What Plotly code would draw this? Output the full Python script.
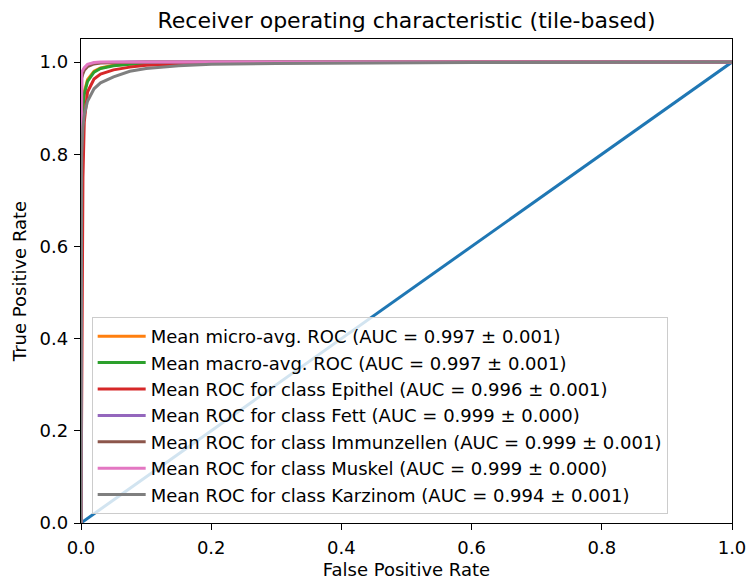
import plotly.graph_objects as go

# Shared false-positive-rate grid for the averaged ROC curves
fpr = [0, 0.001, 0.003, 0.005, 0.01, 0.02, 0.03, 0.05, 0.075, 0.1,
       0.15, 0.2, 0.3, 0.4, 0.6, 0.8, 1.0]

tpr_micro = [0, 0.85, 0.91, 0.935, 0.962, 0.980, 0.987, 0.993, 0.996, 0.997,
             0.998, 0.999, 0.9995, 0.9997, 0.9999, 1.0, 1.0]
tpr_macro = [0, 0.82, 0.90, 0.930, 0.958, 0.978, 0.986, 0.992, 0.995, 0.997,
             0.998, 0.999, 0.9995, 0.9997, 0.9999, 1.0, 1.0]
tpr_epithel = [0, 0.30, 0.75, 0.870, 0.935, 0.963, 0.974, 0.983, 0.989, 0.993,
               0.996, 0.998, 0.999, 0.9995, 0.9998, 1.0, 1.0]
tpr_fett = [0, 0.975, 0.980, 0.985, 0.993, 0.998, 0.999, 1.0, 1.0, 1.0,
            1.0, 1.0, 1.0, 1.0, 1.0, 1.0, 1.0]
tpr_immun = [0, 0.965, 0.975, 0.982, 0.990, 0.996, 0.998, 0.999, 0.9995, 1.0,
             1.0, 1.0, 1.0, 1.0, 1.0, 1.0, 1.0]
tpr_muskel = [0, 0.978, 0.983, 0.988, 0.995, 0.999, 1.0, 1.0, 1.0, 1.0,
              1.0, 1.0, 1.0, 1.0, 1.0, 1.0, 1.0]
tpr_karzinom = [0, 0.80, 0.86, 0.885, 0.915, 0.942, 0.955, 0.968, 0.980, 0.986,
                0.992, 0.995, 0.997, 0.998, 0.999, 0.9995, 1.0]

labels = ["Mean micro-avg. ROC", "Mean macro-avg. ROC",
          "Mean ROC for class Epithel", "Mean ROC for class Fett",
          "Mean ROC for class Immunzellen", "Mean ROC for class Muskel",
          "Mean ROC for class Karzinom"]
auc_mean = [0.997, 0.997, 0.996, 0.999, 0.999, 0.999, 0.994]
auc_std = [0.001, 0.001, 0.001, 0.000, 0.001, 0.000, 0.001]
tprs = [tpr_micro, tpr_macro, tpr_epithel, tpr_fett, tpr_immun, tpr_muskel, tpr_karzinom]
colors = ["#ff7f0e", "#2ca02c", "#d62728", "#9467bd", "#8c564b", "#e377c2", "#7f7f7f"]

chance = [0, 1]

FONT = "DejaVu Sans"

fig = go.Figure()

# chance diagonal
fig.add_trace(go.Scatter(x=chance, y=chance, mode="lines",
                         line=dict(color="#1f77b4", width=3),
                         showlegend=False, hoverinfo="skip"))

for i, (lab, m, s, t, c) in enumerate(zip(labels, auc_mean, auc_std, tprs, colors)):
    fig.add_trace(go.Scatter(
        x=fpr, y=t, mode="lines",
        line=dict(color=c, width=3),
        name=f"{lab} (AUC = {m:.3f} ± {s:.3f})",
        legendgroup=f"g{i}",
    ))

axis_common = dict(
    showline=True, linecolor="black", linewidth=1.3, mirror=True,
    showgrid=False, zeroline=False, automargin=False,
    ticks="outside", ticklen=6, tickwidth=1.3, tickcolor="black",
    ticklabelstandoff=2,
    tickfont=dict(family=FONT, size=18, color="black"),
)

fig.update_layout(
    width=749, height=580,
    margin=dict(l=81, r=17, t=39, b=57),
    paper_bgcolor="white", plot_bgcolor="white",
    title=dict(text="Receiver operating characteristic (tile-based)",
               font=dict(family=FONT, size=22, color="black"),
               x=(81 + 732) / 2 / 749, xanchor="center",
               y=1 - 20 / 580, yanchor="middle"),
    xaxis=dict(range=[0, 1], tickvals=[0, 0.2, 0.4, 0.6, 0.8, 1.0],
               tickformat=".1f",
               title=dict(text="False Positive Rate",
                          font=dict(family=FONT, size=18, color="black"),
                          standoff=6),
               **axis_common),
    yaxis=dict(range=[0, 1.05], tickvals=[0, 0.2, 0.4, 0.6, 0.8, 1.0],
               tickformat=".1f",
               title=dict(text="True Positive Rate",
                          font=dict(family=FONT, size=18, color="black"),
                          standoff=8),
               **axis_common),
    legend=dict(x=0.0164, y=0.0186, xanchor="left", yanchor="bottom",
                bgcolor="rgba(255,255,255,0.8)", bordercolor="#cccccc",
                borderwidth=1, tracegroupgap=0, itemwidth=48,
                font=dict(family=FONT, size=18, color="black")),
)

fig.write_html("out.html")
